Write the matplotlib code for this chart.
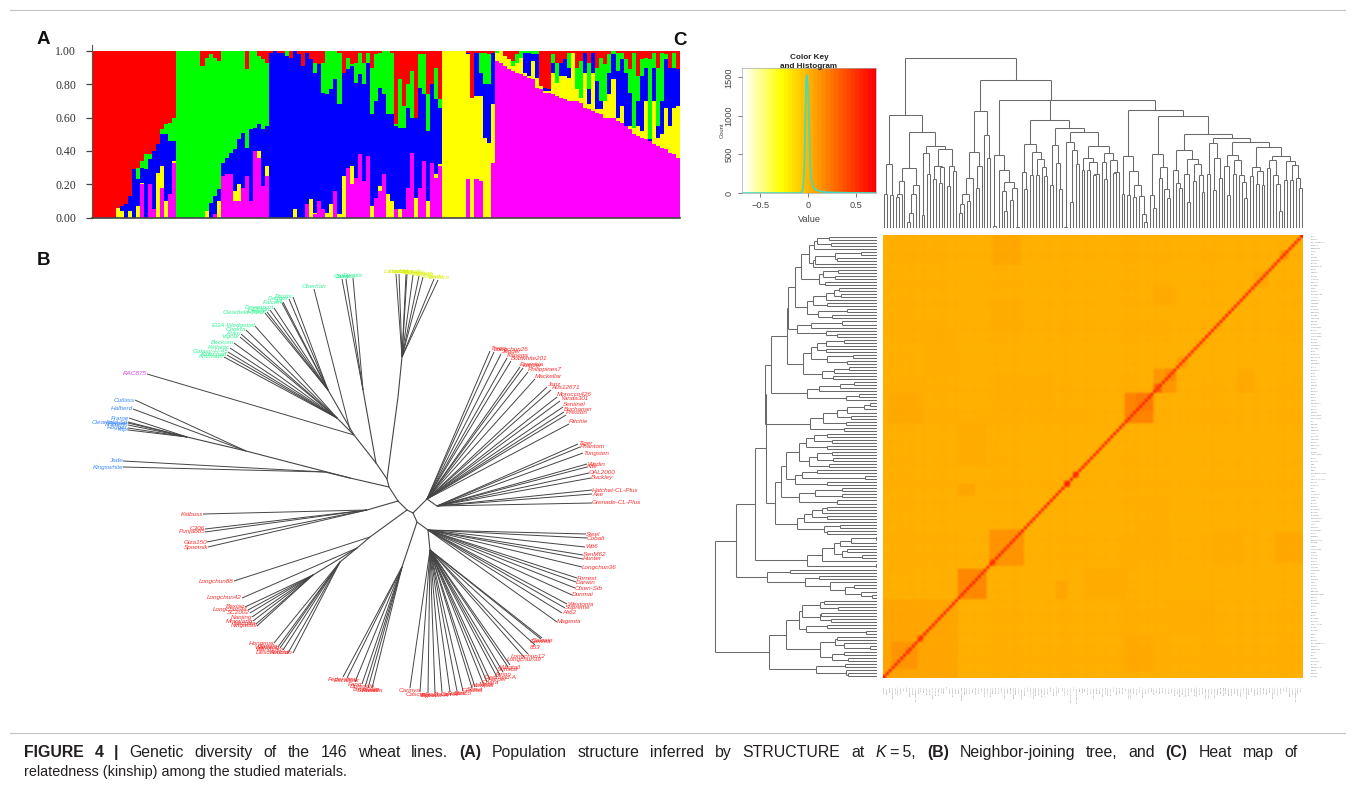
import numpy as np
import matplotlib
matplotlib.use('Agg')
from matplotlib import pyplot as plt
from matplotlib.collections import LineCollection
from matplotlib.colors import LinearSegmentedColormap

W, H = 1355, 798
plt.rcParams['font.family'] = ['Liberation Sans', 'DejaVu Sans']

# Panel A, cumulative top of every colour in the stacked bars (red fills up to 1)
top_magenta = [0, 0, 0, 0, 0, 0, 0, 0, 0, 0,
               0, 0, .20, 0, .20, .05, 0, .18, 0, .14,
               .33, 0, 0, 0, 0, 0, 0, 0, 0, 0,
               .02, 0, .25, .26, .26, .10, .10, .18, .25, .10,
               .40, .36, .19, .25, 0, 0, 0, 0, 0, 0,
               0, 0, 0, .08, 0, .02, .10, .05, 0, 0,
               .16, 0, 0, .30, .20, .24, .38, .22, .37, 0,
               .12, .16, .26, 0, 0, .05, 0, .05, .18, .39,
               0, .18, .34, 0, .33, .24, .31, 0, 0, 0,
               0, 0, 0, .23, 0, .23, .22, 0, 0, .33,
               .94, .93, .91, .89, .88, .87, .86, .85, .84, .83,
               .78, .77, .75, .75, .74, .73, .72, .71, .70, .70,
               .70, .69, .66, .65, .64, .63, .62, .60, .60, .60,
               .58, .57, .55, .53, .50, .49, .48, .47, .46, .44,
               .43, .42, .41, .39, .38, .36]
top_yellow = [0, 0, 0, 0, 0, 0, .06, .04, 0, .04,
              0, .07, .21, 0, .20, .05, .27, .31, .10, .14,
              .34, 0, 0, 0, 0, 0, 0, 0, .04, 0,
              .02, .10, .25, .26, .26, .16, .20, .18, .25, .10,
              .40, .40, .19, .31, 0, 0, 0, 0, 0, 0,
              .05, 0, 0, .08, .11, .03, .10, .05, .03, .08,
              .16, .02, .25, .30, .31, .24, .38, .22, .37, .07,
              .12, .19, .26, .14, .10, .05, .05, .05, .18, .39,
              .12, .18, .34, .10, .33, .26, .32, 1, 1, 1,
              1, 1, 1, .98, .72, .73, .73, .48, .45, .68,
              .99, 1, .97, .95, .91, .93, .96, .87, .85, .94,
              .84, .79, .76, .76, .87, .81, .85, .85, .84, .99,
              .77, .72, .87, .68, .87, .65, .65, .70, .74, .83,
              .60, .67, .55, .55, .54, .55, .52, .70, .46, .70,
              .48, .50, .66, .55, .66, .67]
top_blue = [0, 0, 0, 0, 0, 0, .06, .07, .08, .13,
            .29, .23, .30, .29, .35, .40, .44, .50, .50, .46,
            .46, 0, 0, 0, 0, 0, 0, 0, .04, .09,
            .13, .17, .33, .36, .39, .41, .47, .51, .42, .53,
            .54, .56, .53, .55, .99, 1, .99, .99, .97, .96,
            1, .98, .91, .99, .95, .87, .92, .75, .74, .77,
            .83, .68, .87, .89, .91, .81, .86, .80, .93, .62,
            .70, .78, .74, .62, .62, .55, .54, .54, .66, .60,
            .60, .78, .74, .52, .80, .71, .66, 1, 1, 1,
            1, 1, 1, .99, .72, .99, .87, .80, .80, .99,
            .99, 1, .97, .95, .91, .93, .96, .99, .99, .98,
            .98, .79, .78, .77, .93, .81, .93, .95, .90, .99,
            .77, .72, .99, .77, .99, .82, .70, .70, .87, .98,
            .88, .95, .87, .75, .54, .70, .85, .90, .47, .90,
            .55, .70, .95, .90, .90, .89]
top_green = [0, 0, 0, 0, 0, 0, .06, .07, .08, .13,
             .29, .30, .34, .38, .38, .40, .44, .53, .56, .57,
             .60, 1, 1, 1, 1, 1, 1, .91, .96, .98,
             .96, .94, 1, 1, 1, 1, 1, 1, .89, 1,
             1, .97, .95, .93, .99, 1, .99, .99, 1, .96,
             1, .98, .91, .99, .95, .93, .92, .93, 1, 1,
             1, .99, .87, .96, .92, .93, .99, .93, .99, .90,
             .98, .99, 1, 1, .99, .56, .83, .67, .80, .88,
             .60, .98, .98, .74, .80, .90, .71, 1, 1, 1,
             1, 1, 1, .99, .72, .99, .99, .99, .98, .99,
             1, 1, .97, .95, .94, .98, 1, 1, 1, 1,
             1, .79, .78, .77, .98, .93, .93, .95, .99, .99,
             .90, .94, .99, .93, .99, .90, .96, .92, .98, 1,
             .99, .99, .95, .89, .99, .85, .95, .96, .95, .99,
             .90, .99, .98, .90, .99, .89]
y_ticks_a = [0, .2, .4, .6, .8, 1]

# Panel B, layout (x, y in pixels of the panel)
backbone = [[(398, 501), (407, 510), (413, 513), (417, 522), (402, 567)],
            [(413, 513), (427, 499), (437, 506)],
            [(417, 522), (428, 530), (430, 550)],
            [(407, 510), (370, 537), (357, 548), (340, 562)],
            [(357, 548), (313, 575)],
            [(398, 501), (389, 487), (387, 479), (376, 463), (354, 435), (337, 418)],
            [(354, 435), (328, 390)],
            [(376, 463), (363, 390)],
            [(387, 479), (398, 397), (402, 357)],
            [(389, 487), (350, 478), (325, 472)],
            [(350, 478), (246, 451), (187, 437)],
            [(398, 501), (367, 510)]]

blue_a_hub = (246, 451)
blue_a_x = [135, 133]
blue_a_y = [400, 409]
blue_a_names = ['Cutlass', 'Halberd']
blue_b_hub = (187, 437)
blue_b_x = [129, 128, 128, 128, 128, 128]
blue_b_y = [418, 422, 423, 425, 428, 430]
blue_b_names = ['Frame', 'Clearfield-Stl', 'Pepper', 'Tincurrin', 'Hoggar', 'Yitpi']
blue_c_hub = (325, 472)
blue_c_x = [123, 123]
blue_c_y = [461, 467]
blue_c_names = ['Jade', 'Kingswhite']
rac_hub = (354, 435)
rac_x = [147]
rac_y = [374]
rac_names = ['RAC875']
green_a_hub = (337, 418)
green_a_x = [255, 246, 241, 240, 234, 230, 228, 227, 224]
green_a_y = [326, 330, 334, 337, 343, 348, 352, 355, 357]
green_a_names = ['EGA-Wedgetail', 'Chakra', 'Kukri', 'Vigour', 'Beckom', 'Kellalac',
                 'Galaxy-H-45', 'Kirkwood', 'Krichauff']
green_b_hub = (328, 390)
green_b_x = [293, 289, 283, 282, 274, 270, 267, 265]
green_b_y = [297, 299, 302, 303, 308, 310, 312, 313]
green_b_names = ['Pastor', 'Dagger', 'J-1', 'Falcon', 'Devonport', 'Ellison', 'Elmore',
                 'Clearfield-Janz']
green_c_hub = (350, 430)
green_c_x = [314]
green_c_y = [289]
green_c_names = ['Oberhan']
green_d_hub = (363, 390)
green_d_x = [353, 346, 342]
green_d_y = [278, 279, 279]
green_d_names = ['Ducula', 'Durack', 'Oxley']
yellow_hub = (402, 357)
yellow_x = [396, 399, 406, 407, 413, 419, 423, 434, 438]
yellow_y = [274, 274, 274, 274, 275, 276, 277, 279, 280]
yellow_names = ['Langdon', 'Lincoln', 'Lang', 'Leichhardt', 'Lorikeet', 'Livingston',
                'Ellabup', 'Espada', 'Ventura']
red_top_hub = (427, 499)
red_top_x = [490, 494, 501, 507, 511, 520, 523, 528, 535, 547, 551, 557, 560, 563, 564, 566, 569]
red_top_y = [351, 352, 354, 358, 361, 367, 368, 372, 379, 387, 390, 397, 401, 407, 412, 415, 424]
red_top_names = ['Trego', 'Longchun26', 'Jagger', 'Kariega', 'Bobwhite201', 'Ewenkia', 'Lancer',
                 'Philippines7', 'Mackellar', 'Janz', 'Aus12671', 'Morocco426', 'Yanda301',
                 'Sentinel', 'Buchanan', 'Preston', 'Ritchie']
red_right_hub = (437, 506)
red_right_x = [578, 580, 583, 587, 587, 589, 591, 592, 592, 592]
red_right_y = [444, 447, 453, 464, 467, 473, 478, 490, 494, 503]
red_right_names = ['Tiger', 'Phantom', 'Tungsten', 'Wedin', 'Kite', 'OAL2000', 'Buckley',
                   'Hatchet-CL-Plus', 'Axe', 'Grenade-CL-Plus']
red_low_hub = (428, 530)
red_low_x = [586, 587, 585, 583, 583, 582, 577, 576, 575, 572, 567, 565, 562, 557]
red_low_y = [534, 538, 547, 555, 559, 567, 578, 582, 588, 595, 604, 608, 613, 622]
red_low_names = ['Steel', 'Cobalt', 'Wit6', 'SanM62', 'Hunter', 'Longchun36', 'Forrest', 'Darwin',
                 'Olsen-Sib', 'Dunmai', 'Westonia', 'Supreme', 'Ali62', 'Magenta']
red_fan_hub = (430, 550)
red_fan_x = [542, 541, 535, 528, 524, 510, 508, 503, 500, 497, 490, 487, 483, 475, 472, 463, 457,
             450, 442, 435, 428, 420, 410]
red_fan_y = [638, 639, 645, 654, 657, 665, 667, 672, 675, 677, 680, 682, 683, 687, 688, 691, 691,
             692, 692, 693, 693, 692, 688]
red_fan_names = ['Gawain', 'Glenlea', '853', 'Longchun12', 'Longchun39', 'Wagtail', 'Sunstar',
                 'Arrino', 'Clearfield-A', 'Harper', 'Chara', 'Mace', 'Marquis', 'Scout', 'Gladius',
                 'Sunco', 'Spitfire', 'Correll', 'Bolac', 'Espada-A', 'Yitpi-A', 'Cascades',
                 'Carinya']
red_fed_hub = (402, 567)
red_fed_x = [343, 347, 355, 362, 365, 368, 372]
red_fed_y = [677, 678, 682, 684, 687, 688, 688]
red_fed_names = ['Federation', 'Excalibur', 'Fang', 'Drysdale', 'Tammarin', 'Sunvale', 'Rosella']
red_long_a_hub = (370, 537)
red_long_a_x = [234]
red_long_a_y = [581]
red_long_a_names = ['Longchun88']
red_long_b_hub = (357, 548)
red_long_b_x = [242]
red_long_b_y = [598]
red_long_b_names = ['Longchun42']
red_long_c_hub = (313, 575)
red_long_c_x = [245, 248, 250, 252, 253, 256, 257]
red_long_c_y = [607, 610, 613, 617, 621, 624, 626]
red_long_c_names = ['Baxiao', 'Longchun44', 'SC2002', 'Nanjing', 'Mianyang', 'Nongda', 'Ningmai9']
red_long_d_hub = (340, 562)
red_long_d_x = [274, 278, 280, 283, 288, 293]
red_long_d_y = [643, 647, 648, 650, 653, 653]
red_long_d_names = ['Hongmai', 'Ganzhi', 'Wanfeng', 'Wangshui', 'Aurora', 'Desconocido']
red_kal_hub = (367, 510)
red_kal_x = [203, 205, 205, 207, 208]
red_kal_y = [514, 529, 532, 542, 547]
red_kal_names = ['Kalbuss', 'C306', 'Punjab85', 'Giza150', 'Spoetnik']

# Panel C, colour key trace
hist_x = [-.7, -.3, -.08, -.06, -.05, -.04, -.03, -.02, -.01, 0, .01, .02, .03, .05, .07,
          .1, .15, .2, .3, .4, .7]
hist_y = [0, 0, 0, 20, 80, 300, 900, 1480, 1530, 1350, 900, 420, 200, 80, 50,
          30, 15, 10, 5, 3, 0]

# Kinship blocks (col from, col to, row from, row to, value), rows counted from the bottom
diag_blocks = [(0, 26, 0, 26, .05), (3, 12, 3, 12, .11), (8, 10, 8, 10, .22), (12, 14, 12, 14, .36),
               (26, 36, 26, 36, .17), (37, 49, 37, 49, .12), (37, 39, 37, 39, .36),
               (63, 65, 63, 65, .5), (66, 68, 66, 68, .42), (84, 94, 84, 94, .18),
               (88, 94, 88, 94, .22), (94, 102, 94, 102, .11), (94, 97, 94, 97, .28),
               (98, 102, 98, 102, .16), (102, 106, 102, 106, .07), (129, 134, 129, 134, .05),
               (138, 141, 138, 141, .11)]
off_blocks = [(38, 48, 136, 146, .04), (26, 32, 60, 64, .055), (62, 64, 26, 32, .05),
              (70, 84, 26, 36, .032), (115, 125, 38, 49, .024), (26, 36, 72, 83, .03),
              (2, 14, 84, 94, .032), (123, 129, 94, 102, .035), (94, 102, 124, 127, .035),
              (15, 25, 100, 115, .02), (88, 100, 40, 60, .018)]
kin_base = .012
kin_diag = .6
# how much darker each line of the matrix reads, in tenths of a small step
kin_line_shade = [3, 4, 5, 3, 4, 6, 5, 4, 3, 5, 4, 3, 2, 4, 5, 3, 2, 3, 4, 3, 5, 4, 3, 2, 3, 4,
                  1, 2, 3, 2, 1, 3, 2, 1, 2, 3, 2, 4, 3, 5, 4, 3, 4, 2, 3, 5, 4, 3, 2, 1,
                  2, 3, 1, 2, 1, 3, 2, 4, 3, 2, 1, 2, 3, 5, 4, 3, 2, 3, 1, 2, 4, 3, 2, 3, 1,
                  2, 1, 3, 2, 1, 2, 3, 2, 4, 5, 4, 3, 5, 4, 3, 2, 3, 4, 2, 5, 4, 3, 2, 4, 3,
                  2, 1, 2, 3, 1, 2, 3, 1, 2, 1, 3, 4, 2, 3, 5, 4, 3, 4, 2, 3, 1, 2, 3, 4, 3,
                  2, 1, 2, 3, 4, 3, 2, 1, 2, 3, 1, 2, 3, 4, 5, 3, 2, 3, 4, 2, 3]
kin_shade_step = .0025

# Dendrograms, nested (height, left, right), leaf = 0
top_left = (113, (64, (34, 0, 0), (33, 0, 0)),
            (96, (60, (47, (34, (31, 0, 0), 0), 0), (43, (34, (15, (6, 0, 0), 0), 0), 0)),
             (82, (75, (13, 0, 0), (54, 0, 0)),
              (79, (62, (49, 0, 0), (61, (45, 0, 0), 0)), (62, (42, 0, 0), (57, 0, 0))))))
top_d = (117, (76, (50, (34, (24, (15, 0, 0), 0), (27, 0, 0)), 0), (62, (40, 0, 0), 0)),
         (93, 0, (70, 0, 0)))
top_f = (73, (2, 0, 0), (58, 0, (46, (37, 0, (17, 0, 0)), (40, (28, 0, 0), (1, 0, 0)))))
top_g = (108, (84, (56, 0, (39, 0, 0)), (76, (53, 0, 0), (69, (53, 0, 0), (61, 0, (52, 0, 0))))),
         (100, (83, (43, 0, 0), (65, 0, (39, 0, 0))),
          (96, (86, (1, 0, 0), (78, (26, 0, 0), (64, 0, 0))),
           (82, (70, (58, 0, 0), (66, (58, 0, 0), (54, (53, 0, 0), 0))),
            (75, (66, 0, (49, 0, 0)), (68, 0, (56, (55, 0, 0), 0)))))))
top_h1 = (72, (34, 0, 0), (57, (33, 0, 0), (43, (31, 0, 0), (32, 0, (14, 0, (6, 0, 0))))))
top_k = (74, (33, 0, (20, 0, 0)), (61, (50, 0, 0), (39, 0, (30, 0, 0))))
top_m1 = (78, (58, 0, (45, 0, (40, 0, 0))), (69, (54, 0, (26, 0, 0)), (64, (47, 0, 0), (53, 0, (36, 0, 0)))))
top_m2 = (90, (85, (54, 0, 0), (70, (38, 0, 0), (50, 0, 0))),
          (86, (73, (62, 0, (33, 0, 0)), (68, (54, 0, 0), (53, 0, (46, 0, (30, 0, 0))))),
           (81, (61, (52, 0, 0), (57, (44, 0, 0), (43, 0, 0))),
            (72, (68, (60, 0, 0), (53, 0, (44, 0, (17, 0, 0)))),
             (67, (48, 0, 0), (63, (48, 0, 0), (50, 0, (40, 0, 0))))))))
top_tree = (170, top_left,
            (148, top_d, (128, top_f, (128, top_g, (118, top_h1, (112, top_k, (94, top_m1, top_m2)))))))

left_a = (82, (76, (68, (63, (60, (48, 0, 0), (46, 0, 0)), 0), (64, (62, (42, (16, 0, 0), (40, 0, 0)), 0), 0)),
               (58, (54, (39, 0, 0), (42, 0, 0)), (52, 0, 0))),
          (70, (64, (51, (43, (38, 0, 0), (36, 0, 0)), 0), (50, 0, 0)), (59, (30, 0, 0), (45, 0, 0))))
left_b = (80, (66, (35, 0, 0), 0), (51, 0, (40, 0, 0)))
left_c = (74, (66, (60, (51, (33, 0, 0), 0), (51, 0, 0)), (50, (24, 0, 0), (30, 0, 0))),
          (55, (43, (28, 0, 0), 0), (44, 0, 0)))
left_d = (70, (58, (37, (23, 0, 0), 0), 0), (31, (18, 0, 0), 0))
left_e = (67, (54, (40, (30, (13, (7, 0, 0), 0), 0), (26, 0, 0)), (31, 0, 0)), (33, 0, 0))
left_f = (102, (96, (91, (78, (71, (63, (50, 0, 0), (45, 0, 0)), (50, 0, 0)),
                          (68, (60, (45, 0, 0), (44, 0, 0)), (48, 0, 0))),
                     (82, (75, (60, 0, 0), (12, 0, 0)), (50, 0, 0))),
                (78, (62, (35, 0, 0), (35, 0, 0)), (40, 0, 0))),
          (80, (73, (65, (55, (50, 0, 0), 0), (50, 0, 0)), 0), (53, (37, 0, 0), (50, 0, 0))))
left_g = (70, (55, (43, (37, (26, (1, 0, 0), 0), 0), (35, (30, 0, 0), (15, 0, 0))), 0), (1, 0, 0))
left_h = (110, (87, 0, 0), (72, (58, 0, 0), (47, 0, (32, (23, 0, 0), (16, 0, (5, 0, 0))))))
left_q = (108, (91, (78, (75, (57, (53, 0, 0), (39, 0, 0)), (57, (56, 0, 0), (46, 0, 0))),
                     (71, (50, 0, 0), (11, 0, 0))),
                (57, (42, (40, 0, 0), (33, 0, (7, 0, 0))), (45, (33, 0, 0), (29, 0, 0)))),
          (61, (32, 0, 0), (31, 0, (29, 0, 0))))
left_tree = (162, (141, (122, (111, (112, (106, (90, (89, left_a, left_b), left_c), left_d), left_e), left_f), left_g),
                   left_h),
             left_q)

caption_1 = [("FIGURE", 'bold', 'normal', True), ("4", 'bold', 'normal', True), ("|", 'bold', 'normal', True),
             ("Genetic", 'normal', 'normal', True), ("diversity", 'normal', 'normal', True),
             ("of", 'normal', 'normal', True), ("the", 'normal', 'normal', True), ("146", 'normal', 'normal', True),
             ("wheat", 'normal', 'normal', True), ("lines.", 'normal', 'normal', True), ("(A)", 'bold', 'normal', True),
             ("Population", 'normal', 'normal', True), ("structure", 'normal', 'normal', True),
             ("inferred", 'normal', 'normal', True), ("by", 'normal', 'normal', True),
             ("STRUCTURE", 'normal', 'normal', True), ("at", 'normal', 'normal', True), ("K", 'normal', 'italic', False),
             ("\u2009=\u20095,", 'normal', 'normal', True), ("(B)", 'bold', 'normal', True),
             ("Neighbor-joining", 'normal', 'normal', True), ("tree,", 'normal', 'normal', True),
             ("and", 'normal', 'normal', True), ("(C)", 'bold', 'normal', True), ("Heat", 'normal', 'normal', True),
             ("map", 'normal', 'normal', True), ("of", 'normal', 'normal', False)]
caption_2 = "relatedness (kinship) among the studied materials."
caption_size_1 = 11.4
caption_size_2 = 10.4
caption_right = 1296


def px_axes(fig, x0, y0, x1, y1):
    return fig.add_axes([x0 / W, 1 - y1 / H, (x1 - x0) / W, (y1 - y0) / H])


def count_leaves(node):
    if node == 0:
        return 1
    return count_leaves(node[1]) + count_leaves(node[2])


def dendro_segments(node, counter, segs):
    """Returns (position, height) of a node and appends its U to segs as (pos, height) pairs"""
    if node == 0:
        counter[0] += 1
        return counter[0] - 0.5, 0
    pa, ha = dendro_segments(node[1], counter, segs)
    pb, hb = dendro_segments(node[2], counter, segs)
    segs.append([(pa, ha), (pa, node[0])])
    segs.append([(pa, node[0]), (pb, node[0])])
    segs.append([(pb, node[0]), (pb, hb)])
    return (pa + pb) / 2, node[0]


def draw_tree_group(ax, hub, xs, ys, names, color, ha='right', va='center'):
    for x, y, name in zip(xs, ys, names):
        ax.plot([hub[0], x], [hub[1], y], color='#444444', lw=0.7, solid_capstyle='butt')
        ax.text(x, y, name, color=color, fontsize=4.6, style='italic', ha=ha, va=va, alpha=0.9)


fig = plt.figure(figsize=(W / 100, H / 100), dpi=100)

page = fig.add_axes([0, 0, 1, 1], zorder=-1)
page.set_xlim(0, W)
page.set_ylim(H, 0)
page.axis('off')
page.plot([10, 1345], [10, 10], color='#c4c4c4', lw=0.8)
page.plot([10, 1345], [733, 733], color='#c4c4c4', lw=0.8)
page.text(37, 44, 'A', fontsize=13.5, fontweight='bold', color='#111111')
page.text(37, 265, 'B', fontsize=13.5, fontweight='bold', color='#111111')
page.text(673, 45, 'C', fontsize=13.5, fontweight='bold', color='#111111')

# first caption line is justified, so the spare width goes into the word gaps
renderer = fig.canvas.get_renderer()
caption_words = []
for word, weight, style, gap in caption_1:
    t = page.text(24, 757, word, fontsize=caption_size_1, fontweight=weight, style=style, color='#231f20')
    caption_words.append((t, t.get_window_extent(renderer).width, gap))
words_width = sum(c[1] for c in caption_words)
n_gaps = sum(1 for c in caption_words if c[2])
gap_width = (caption_right - 24 - words_width) / n_gaps
x_now = 24
for t, width, gap in caption_words:
    t.set_x(x_now)
    x_now += width + (gap_width if gap else 1.5)
page.text(24, 776, caption_2, fontsize=caption_size_2, color='#231f20')

# A
ax = px_axes(fig, 91.7, 45, 680, 217.7)
n_bars = len(top_green)
bar_x = np.arange(n_bars)
stack_tops = [top_magenta, top_yellow, top_blue, top_green, [1] * n_bars]
stack_colors = ['#ff00ff', '#ffff00', '#0000ff', '#00ff00', '#ff0000']
bottom = np.zeros(n_bars)
for tops, color in zip(stack_tops, stack_colors):
    tops = np.array(tops, dtype=float)
    ax.bar(bar_x, tops - bottom, bottom=bottom, width=1.0, color=color, linewidth=0, antialiased=False)
    bottom = tops
ax.set_xlim(-0.5, n_bars - 0.5)
ax.set_ylim(0, 1.035)
ax.set_xticks([])
ax.set_yticks(y_ticks_a)
ax.set_yticklabels(['%.2f' % v for v in y_ticks_a], family='Liberation Serif', fontsize=8.6, color='#333333')
ax.tick_params(axis='y', length=4.3, width=0.9, pad=7, color='#444444')
ax.spines['top'].set_visible(False)
ax.spines['right'].set_visible(False)
ax.spines['left'].set_color('#555555')
ax.spines['bottom'].set_color('#444444')
ax.spines['bottom'].set_linewidth(1.2)

# B
ax = px_axes(fig, 90, 250, 680, 720)
ax.set_xlim(90, 680)
ax.set_ylim(720, 250)
ax.axis('off')
for path in backbone:
    ax.plot([p[0] for p in path], [p[1] for p in path], color='#444444', lw=0.8)
blue = '#2a7fff'
green = '#22f58c'
red = '#ff1a1a'
draw_tree_group(ax, blue_a_hub, blue_a_x, blue_a_y, blue_a_names, blue)
draw_tree_group(ax, blue_b_hub, blue_b_x, blue_b_y, blue_b_names, blue)
draw_tree_group(ax, blue_c_hub, blue_c_x, blue_c_y, blue_c_names, blue)
draw_tree_group(ax, rac_hub, rac_x, rac_y, rac_names, '#d633e8')
draw_tree_group(ax, green_a_hub, green_a_x, green_a_y, green_a_names, green)
draw_tree_group(ax, green_b_hub, green_b_x, green_b_y, green_b_names, green)
draw_tree_group(ax, green_c_hub, green_c_x, green_c_y, green_c_names, green, ha='center', va='bottom')
draw_tree_group(ax, green_d_hub, green_d_x, green_d_y, green_d_names, green, ha='center', va='bottom')
draw_tree_group(ax, yellow_hub, yellow_x, yellow_y, yellow_names, '#d8f000', ha='center', va='bottom')
draw_tree_group(ax, red_top_hub, red_top_x, red_top_y, red_top_names, red, ha='left', va='bottom')
draw_tree_group(ax, red_right_hub, red_right_x, red_right_y, red_right_names, red, ha='left')
draw_tree_group(ax, red_low_hub, red_low_x, red_low_y, red_low_names, red, ha='left')
draw_tree_group(ax, red_fan_hub, red_fan_x, red_fan_y, red_fan_names, red, ha='center', va='top')
draw_tree_group(ax, red_fed_hub, red_fed_x, red_fed_y, red_fed_names, red, ha='center', va='top')
draw_tree_group(ax, red_long_a_hub, red_long_a_x, red_long_a_y, red_long_a_names, red)
draw_tree_group(ax, red_long_b_hub, red_long_b_x, red_long_b_y, red_long_b_names, red)
draw_tree_group(ax, red_long_c_hub, red_long_c_x, red_long_c_y, red_long_c_names, red)
draw_tree_group(ax, red_long_d_hub, red_long_d_x, red_long_d_y, red_long_d_names, red)
draw_tree_group(ax, red_kal_hub, red_kal_x, red_kal_y, red_kal_names, red)

# C, colour key
kin_cmap = LinearSegmentedColormap.from_list('kin', [(0, 'white'), (0.286, 'yellow'), (1, 'red')], N=32)
ax = px_axes(fig, 742, 68, 876, 193)
gradient = np.linspace(-0.7, 0.7, 256).reshape(1, -1)
ax.imshow(gradient, cmap=kin_cmap, vmin=-0.7, vmax=0.7, aspect='auto',
          extent=(-0.69, 0.71, 0, 1622), interpolation='bilinear')
ax.plot(hist_x, hist_y, color='#3fdcc0', lw=1.2)
ax.set_xlim(-0.69, 0.71)
ax.set_ylim(0, 1622)
ax.set_xticks([-0.5, 0, 0.5])
ax.set_xticklabels(['\u22120.5', '0', '0.5'], fontsize=6.6, color='#444444')
ax.set_yticks([0, 500, 1000, 1500])
ax.set_yticklabels(['0', '500', '1000', '1500'], fontsize=6.6, rotation=90, va='center', color='#444444')
ax.tick_params(length=3, width=0.6, color='#666666', pad=3)
ax.set_xlabel('Value', fontsize=6.6, labelpad=3, color='#444444')
ax.set_ylabel('Count', fontsize=4.2, labelpad=0, color='#444444')
ax.text(0.5, 1.045, 'Color Key\nand Histogram', transform=ax.transAxes, fontsize=5.9, fontweight='bold',
        ha='center', va='center', linespacing=1.45, color='#222222', zorder=5)
for spine in ax.spines.values():
    spine.set_linewidth(0.5)
    spine.set_color('#aaaaaa')

# C, dendrogram above
top_n = count_leaves(top_tree)
segs = []
dendro_segments(top_tree, [0], segs)
ax = px_axes(fig, 883, 56, 1303, 228)
ax.add_collection(LineCollection(segs, colors='#6a6a6a', linewidths=0.75))
ax.set_xlim(0, top_n)
ax.set_ylim(0, 172)
ax.axis('off')

# C, dendrogram on the left
left_n = count_leaves(left_tree)
segs = []
dendro_segments(left_tree, [0], segs)
segs = [[(h, p) for p, h in seg] for seg in segs]
ax = px_axes(fig, 712, 235, 877, 678)
ax.add_collection(LineCollection(segs, colors='#6a6a6a', linewidths=0.75))
ax.set_xlim(165, 0)
ax.set_ylim(left_n, 0)
ax.axis('off')

# C, kinship matrix
all_names = (blue_a_names + blue_b_names + blue_c_names + rac_names + green_a_names + green_b_names
             + green_c_names + green_d_names + yellow_names + red_top_names + red_right_names
             + red_low_names + red_fan_names + red_fed_names + red_long_a_names + red_long_b_names
             + red_long_c_names + red_long_d_names + red_kal_names)
n_kin = 146
kin = np.full((n_kin, n_kin), kin_base)
for c0, c1, r0, r1, v in off_blocks:
    kin[r0:r1, c0:c1] = v
    kin[c0:c1, r0:r1] = v
for c0, c1, r0, r1, v in diag_blocks:
    kin[r0:r1, c0:c1] = v
line_shade = np.array(kin_line_shade, dtype=float) * kin_shade_step
kin = kin + line_shade[:, None] + line_shade[None, :] - 3 * kin_shade_step * 2
kin[np.arange(n_kin), np.arange(n_kin)] = kin_diag
ax = px_axes(fig, 883, 235, 1303, 678)
ax.imshow(kin, origin='lower', cmap=LinearSegmentedColormap.from_list('kin2', [(0, 'white'), (0.286, 'yellow'), (1, 'red')]),
          vmin=-0.7, vmax=0.7, aspect='auto', interpolation='bilinear')
leaf_labels = (all_names * 2)[:n_kin]
ax.set_xticks(np.arange(n_kin))
ax.set_xticklabels(leaf_labels, rotation=90, fontsize=1.5, color='#888888')
ax.yaxis.tick_right()
ax.set_yticks(np.arange(n_kin))
ax.set_yticklabels(leaf_labels, fontsize=1.5, color='#888888')
ax.tick_params(length=0, pad=6)
for spine in ax.spines.values():
    spine.set_visible(False)

fig.savefig('out.png', dpi=100)
